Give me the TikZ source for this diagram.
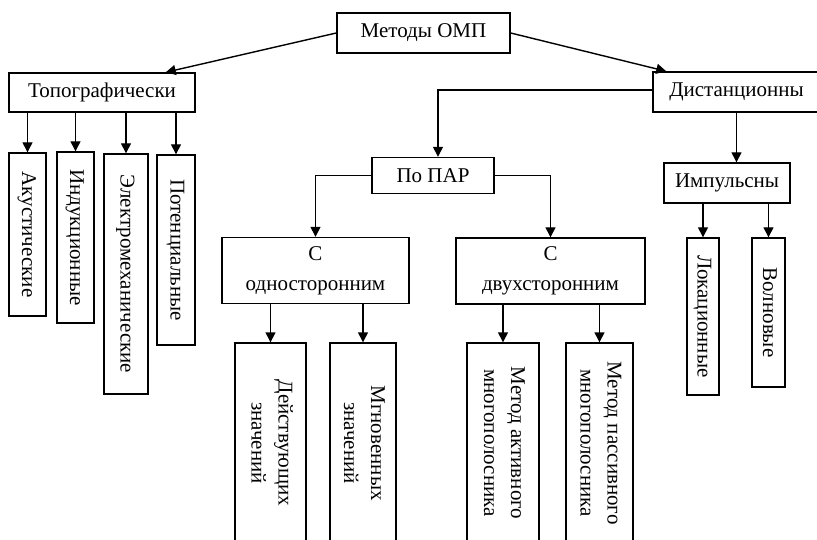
\documentclass[tikz,border=0pt]{standalone}
\usepackage{fontspec}
\setmainfont{Liberation Serif}
\usepackage{graphicx}
\usetikzlibrary{arrows.meta,calc}
\newcommand{\vlab}[1]{\rotatebox{-90}{\begin{tabular}{@{}c@{}}#1\end{tabular}}}
\begin{document}
\begin{tikzpicture}[x=1pt,y=-1pt,
  every node/.style={font=\fontsize{21}{27}\selectfont},
  box/.style={draw, line width=1.4pt, inner sep=0pt, align=center},
  twoline/.style={font=\fontsize{21}{30}\selectfont},
  arr/.style={line width=1.4pt, -{Triangle[length=10pt,width=10pt]}}]
\useasboundingbox (0,0) rectangle (817,540);
% top level
\node[box, minimum width=173pt, minimum height=40pt] (m) at (423.5,33) {Методы ОМП};
\node[box, minimum width=186pt, minimum height=39pt] (topo) at (102,92.5) {Топографически};
\node[box, minimum width=167pt, minimum height=40pt] (dist) at (736.5,92) {Дистанционны};
\node[box, minimum width=122pt, minimum height=36pt] (par) at (433,175.5) {По ПАР};
\node[box, minimum width=126pt, minimum height=40pt] (imp) at (727,183) {Импульсны};
\node[box, twoline, minimum width=187pt, minimum height=66pt] (one) at (315.5,270.5) {С\\односторонним};
\node[box, twoline, minimum width=189pt, minimum height=66pt] (two) at (550.5,271) {С\\двухсторонним};
% topographic children
\node[box, minimum width=37pt, minimum height=163pt] (a1) at (27.5,234.5) {\vlab{Акустические}};
\node[box, minimum width=37pt, minimum height=171pt] (a2) at (75.5,237.5) {\vlab{Индукционные}};
\node[box, minimum width=44pt, minimum height=240pt] (a3) at (126,274) {\vlab{Электромеханические}};
\node[box, minimum width=38pt, minimum height=190pt] (a4) at (176,250) {\vlab{Потенциальные}};
% PAR children
\node[box, minimum width=71pt, minimum height=200pt] (d1) at (270.5,443) {\vlab{Действующих\\значений}};
\node[box, minimum width=66pt, minimum height=200pt] (d2) at (363,443) {\vlab{Мгновенных\\значений}};
\node[box, minimum width=72pt, minimum height=200pt] (d3) at (503,443) {\vlab{Метод активного\\многополосника}};
\node[box, minimum width=67pt, minimum height=200pt] (d4) at (599.5,443) {\vlab{Метод пассивного\\многополосника}};
% impulse children
\node[box, minimum width=32pt, minimum height=157pt] (i1) at (703,316.5) {\vlab{Локационные}};
\node[box, minimum width=33pt, minimum height=149pt] (i2) at (768.5,312.5) {\vlab{Волновые}};
% connectors
\draw[arr] (m.west) -- ([xshift=-30pt]topo.north east);
\draw[arr] (m.east) -- ([xshift=14pt]dist.north west);
\draw[arr] ([yshift=2pt]dist.west) -| ([xshift=5pt]par.north);
\draw[arr] (dist.south) -- (dist.south |- imp.north);
\draw[arr] (par.west) -| (one.north);
\draw[arr] (par.east) -| (two.north);
\foreach \c in {a1,a2,a3,a4} \draw[arr] (topo.south -| \c.north) -- (\c.north);
\foreach \c in {d1,d2} \draw[arr] (one.south -| \c.north) -- (\c.north);
\foreach \c in {d3,d4} \draw[arr] (two.south -| \c.north) -- (\c.north);
\foreach \c in {i1,i2} \draw[arr] (imp.south -| \c.north) -- (\c.north);
\end{tikzpicture}
\end{document}
